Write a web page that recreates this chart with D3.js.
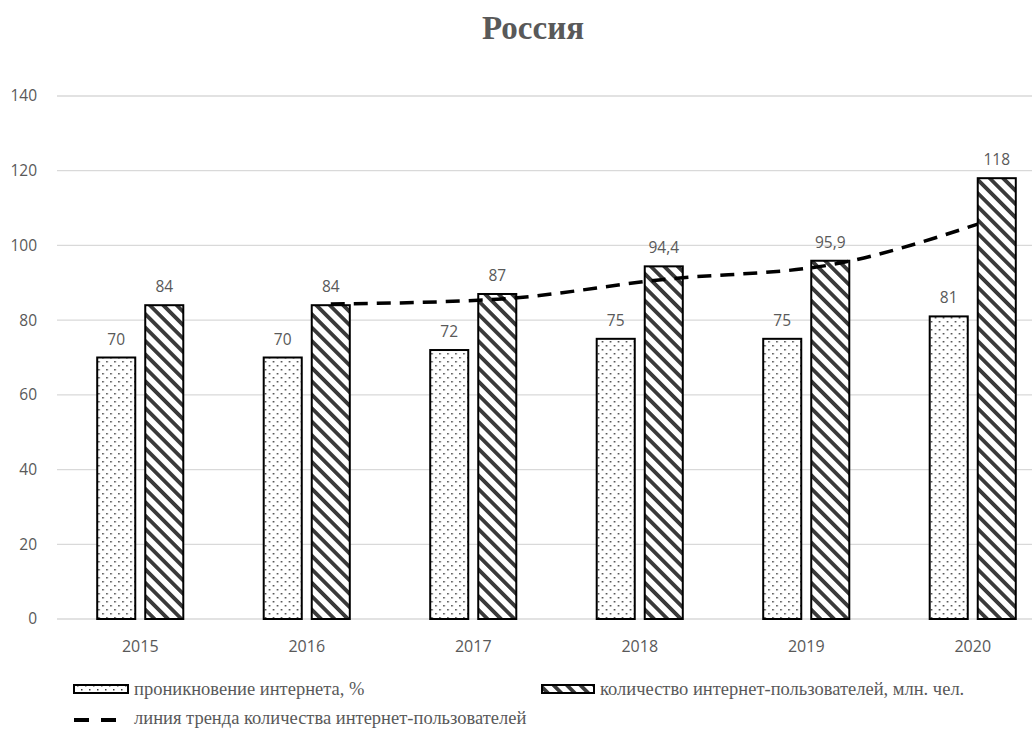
<!DOCTYPE html>
<html>
<head>
<meta charset="utf-8">
<script src="https://cdn.jsdelivr.net/npm/d3@7"></script>
<style>
  body { margin: 0; background: #fff; }
  text { fill: #595959; }
</style>
</head>
<body>
<div id="chart"></div>
<script>
// data
const years = ["2015", "2016", "2017", "2018", "2019", "2020"];
const penetration = [70, 70, 72, 75, 75, 81];
const users = [84, 84, 87, 94.4, 95.9, 118];
const userLabels = ["84", "84", "87", "94,4", "95,9", "118"];
const trendYears = ["2016", "2017", "2018", "2019", "2020"];
const trendValues = [84.3, 85.6, 90.9, 94.8, 105.7];
const yTicks = [0, 20, 40, 60, 80, 100, 120, 140];
const seriesNames = ["проникновение интернета, %", "количество интернет-пользователей, млн. чел."];
const trendName = "линия тренда количества интернет-пользователей";

const W = 1032, H = 729;
const margin = {left: 57, right: -24, top: 96, bottom: 110};
const labelFont = "'Open Sans', sans-serif";
const serifFont = "'Liberation Serif', 'DejaVu Serif', serif";

const svg = d3.select("#chart").append("svg")
  .attr("width", W).attr("height", H);

//patterns
const defs = svg.append("defs");
const dots = defs.append("pattern")
  .attr("id", "dots").attr("patternUnits", "userSpaceOnUse")
  .attr("width", 8).attr("height", 8);
dots.append("rect").attr("width", 8).attr("height", 8).attr("fill", "#fff");
dots.append("rect").attr("x", 1).attr("y", 1).attr("width", 1.5).attr("height", 1.5).attr("fill", "#3c3c3c");
dots.append("rect").attr("x", 5).attr("y", 5).attr("width", 1.5).attr("height", 1.5).attr("fill", "#3c3c3c");

const hatch = defs.append("pattern")
  .attr("id", "hatch").attr("patternUnits", "userSpaceOnUse")
  .attr("width", 9.5).attr("height", 9.5)
  .attr("patternTransform", "rotate(-45)");
hatch.append("rect").attr("width", 9.5).attr("height", 9.5).attr("fill", "#fff");
hatch.append("rect").attr("x", 0).attr("width", 3.8).attr("height", 9.5).attr("fill", "#3a3a3a");

const fills = ["url(#dots)", "url(#hatch)"];

//scales
const x0 = d3.scaleBand()
  .domain(years)
  .range([margin.left, W - margin.right])
  .paddingInner(0.483)
  .paddingOuter(0.2415);

const x1 = d3.scaleBand()
  .domain([0, 1])
  .range([0, x0.bandwidth()])
  .paddingInner(0.208);

const y = d3.scaleLinear()
  .domain([0, 140])
  .range([H - margin.bottom, margin.top]);

//grid
svg.append("g").selectAll("line")
  .data(yTicks)
  .join("line")
  .attr("x1", margin.left).attr("x2", W)
  .attr("y1", d => y(d)).attr("y2", d => y(d))
  .attr("stroke", "#d9d9d9").attr("stroke-width", 1.3);

svg.append("g").selectAll("text")
  .data(yTicks)
  .join("text")
  .attr("x", 37).attr("y", d => y(d))
  .attr("dy", "0.35em")
  .attr("text-anchor", "end")
  .style("font-family", labelFont)
  .style("font-size", "15.5px")
  .text(d => d);

svg.append("g").selectAll("text")
  .data(years)
  .join("text")
  .attr("x", d => x0(d) + x0.bandwidth() / 2)
  .attr("y", 652)
  .attr("text-anchor", "middle")
  .style("font-family", labelFont)
  .style("font-size", "16px")
  .text(d => d);

//bars
const series = [penetration, users];
const labels = [penetration.map(String), userLabels];

const groups = svg.append("g").selectAll("g")
  .data(years)
  .join("g")
  .attr("transform", d => `translate(${x0(d)},0)`);

groups.selectAll("rect")
  .data((d, i) => [0, 1].map(s => ({s, v: series[s][i]})))
  .join("rect")
  .attr("x", d => x1(d.s))
  .attr("y", d => y(d.v))
  .attr("width", x1.bandwidth())
  .attr("height", d => y(0) - y(d.v))
  .attr("fill", d => fills[d.s])
  .attr("stroke", "#000")
  .attr("stroke-width", 2);

groups.selectAll("text")
  .data((d, i) => [0, 1].map(s => ({s, v: series[s][i], t: labels[s][i]})))
  .join("text")
  .attr("x", d => x1(d.s) + x1.bandwidth() / 2)
  .attr("y", d => y(d.v) - 13)
  .attr("text-anchor", "middle")
  .style("font-family", labelFont)
  .style("font-size", "15.5px")
  .text(d => d.t);

//trend line: ends at the left edge of the last users bar
const trendX = (yr, i) => i === trendYears.length - 1
  ? x0(yr) + x1(1)
  : x0(yr) + x1(1) + x1.bandwidth() / 2;

const line = d3.line()
  .x((d, i) => trendX(trendYears[i], i))
  .y(d => y(d))
  .curve(d3.curveMonotoneX);

svg.append("path")
  .attr("d", line(trendValues))
  .attr("fill", "none")
  .attr("stroke", "#000")
  .attr("stroke-width", 3.5)
  .attr("stroke-dasharray", "14,9");

//title
svg.append("text")
  .attr("x", 533).attr("y", 39)
  .attr("text-anchor", "middle")
  .style("font-family", serifFont)
  .style("font-weight", "bold")
  .style("font-size", "33px")
  .text("Россия");

//legend
const legend = svg.append("g")
  .style("font-family", serifFont)
  .style("font-size", "18.5px");

const legendItems = [{x: 74, w: 54, y: 689, i: 0}, {x: 542, w: 52, y: 689, i: 1}];
legendItems.forEach(d => {
  legend.append("rect")
    .attr("x", d.x).attr("y", d.y - 4)
    .attr("width", d.w).attr("height", 8)
    .attr("fill", fills[d.i])
    .attr("stroke", "#000").attr("stroke-width", 2);
  legend.append("text")
    .attr("x", d.x + d.w + 6).attr("y", 695)
    .text(seriesNames[d.i]);
});

legend.append("line")
  .attr("x1", 74).attr("x2", 120)
  .attr("y1", 720).attr("y2", 720)
  .attr("stroke", "#000").attr("stroke-width", 4)
  .attr("stroke-dasharray", "15,12");
legend.append("text")
  .attr("x", 134).attr("y", 724)
  .text(trendName);
</script>
</body>
</html>
